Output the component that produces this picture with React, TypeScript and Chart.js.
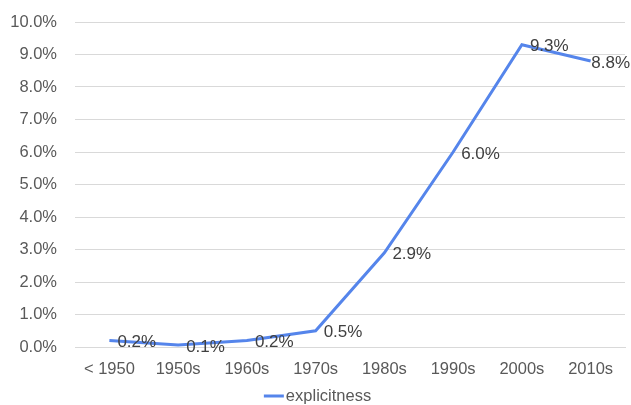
import React, { useEffect, useRef } from "react";
import { Chart, registerables } from "chart.js";

Chart.register(...registerables);

const categories = ["< 1950", "1950s", "1960s", "1970s", "1980s", "1990s", "2000s", "2010s"];
const explicitness = [0.2, 0.06, 0.2, 0.5, 2.9, 6.0, 9.3, 8.8];
const seriesName = "explicitness";

const FONT = "'Liberation Sans', Arial, Helvetica, sans-serif";
const LINE_COLOR = "#5585EB";
const TEXT = "#595959";

const labelPlugin = {
  id: "pointLabels",
  afterDatasetsDraw(chart: any) {
    const ctx = chart.ctx;
    const meta = chart.getDatasetMeta(0);
    ctx.save();
    ctx.font = `17px ${FONT}`;
    ctx.fillStyle = "#404040";
    ctx.textAlign = "left";
    ctx.textBaseline = "middle";
    meta.data.forEach((pt: any, i: number) => {
      const txt = explicitness[i].toFixed(1) + "%";
      const tw = ctx.measureText(txt).width;
      const x = Math.min(pt.x + 8, chart.width - tw - 1);
      ctx.fillText(txt, x, pt.y + 2);
    });
    ctx.restore();
  },
};

const legendPlugin = {
  id: "customLegend",
  afterDraw(chart: any) {
    const ctx = chart.ctx;
    ctx.save();
    ctx.font = `16.5px ${FONT}`;
    const tw = ctx.measureText(seriesName).width;
    const total = 20 + 2 + tw;
    const x0 = (chart.width - total) / 2 + 2;
    const y = chart.height - 9;
    ctx.strokeStyle = LINE_COLOR;
    ctx.lineWidth = 3;
    ctx.beginPath();
    ctx.moveTo(x0, y);
    ctx.lineTo(x0 + 20, y);
    ctx.stroke();
    ctx.fillStyle = TEXT;
    ctx.textAlign = "left";
    ctx.textBaseline = "middle";
    ctx.fillText(seriesName, x0 + 22, y);
    ctx.restore();
  },
};

export default function App() {
  const ref = useRef<HTMLCanvasElement>(null);
  useEffect(() => {
    document.body.style.margin = "0";
    const chart = new Chart(ref.current!, {
      type: "line",
      data: {
        labels: categories,
        datasets: [
          {
            label: seriesName,
            data: explicitness,
            borderColor: LINE_COLOR,
            backgroundColor: LINE_COLOR,
            borderWidth: 3,
            pointRadius: 0,
            tension: 0,
          },
        ],
      },
      options: {
        animation: false,
        responsive: false,
        layout: { padding: { top: 22, right: 6, left: 4, bottom: 22 } },
        plugins: {
          legend: { display: false },
          tooltip: { enabled: false },
        },
        scales: {
          x: {
            offset: true,
            grid: { display: false, drawTicks: false },
            border: { display: true, color: "#d9d9d9" },
            ticks: { color: TEXT, font: { family: FONT, size: 16.5 }, padding: 13 },
            afterFit: (s: any) => {
              s.height = 36;
            },
          },
          y: {
            min: 0,
            max: 10,
            ticks: {
              stepSize: 1,
              color: TEXT,
              font: { family: FONT, size: 16.5 },
              padding: 18,
              callback: (v: any) => Number(v).toFixed(1) + "%",
            },
            grid: { color: "#d9d9d9", drawTicks: false },
            border: { display: false },
            afterFit: (s: any) => {
              s.width = 71;
              s.paddingTop = 0;
              s.paddingBottom = 0;
            },
          },
        },
      },
      plugins: [labelPlugin, legendPlugin],
    } as any);
    return () => chart.destroy();
  }, []);
  return (
    <div style={{ width: 631, height: 405 }}>
      <canvas ref={ref} width={631} height={405} />
    </div>
  );
}
